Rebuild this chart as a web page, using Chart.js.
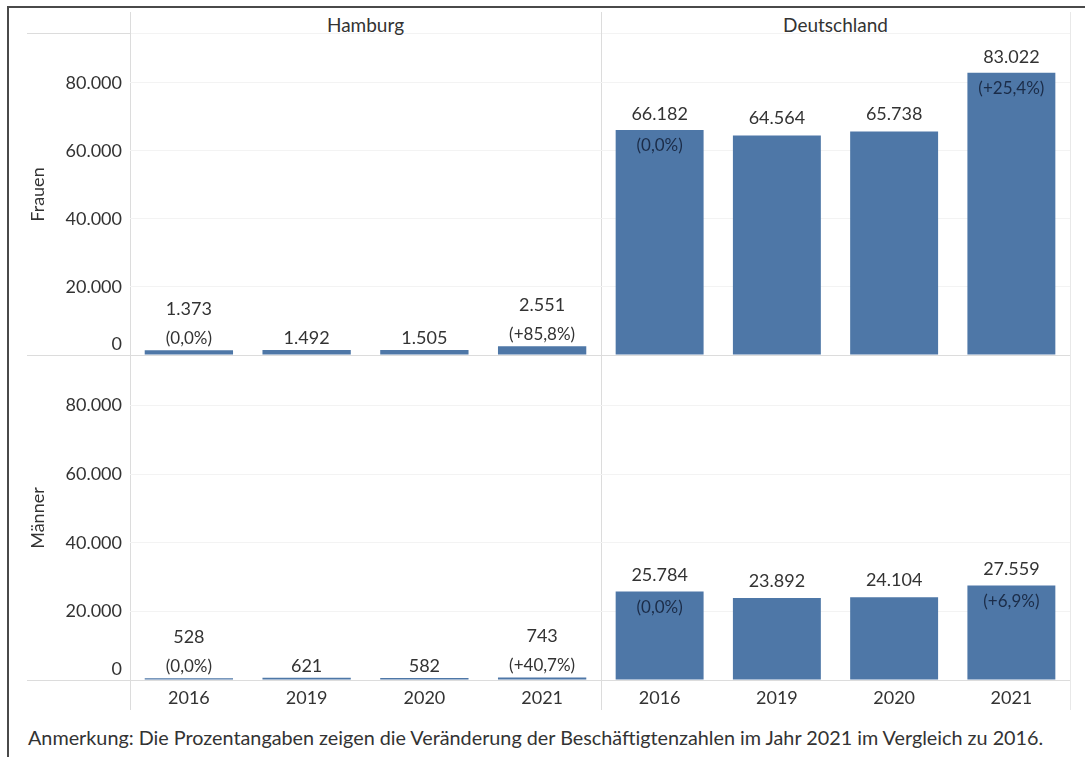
<!DOCTYPE html>
<html lang="de">
<head>
<meta charset="utf-8">
<title>Beschäftigte Frauen und Männer – Hamburg und Deutschland</title>
<script src="https://cdn.jsdelivr.net/npm/chart.js@4.4.1/dist/chart.umd.min.js"></script>
<style>
  body { margin: 0; background: #fff; font-family: Lato, "Open Sans", sans-serif; color: #333; }
  #page { position: relative; width: 1085px; height: 757px; overflow: hidden; }
  canvas { position: absolute; }
  .line { position: absolute; background: #dcdcdc; }
  .head { position: absolute; top: 14px; font-size: 19px; line-height: 22px; text-align: center; }
  #note { position: absolute; left: 28px; top: 725px; font-size: 19.8px; line-height: 24px; white-space: nowrap; }
</style>
</head>
<body>
<div id="page">
  <div class="line" style="left:7px;top:6px;width:1078px;height:2px;background:#4a4a4a"></div>
  <div class="line" style="left:7px;top:6px;width:2px;height:751px;background:#4a4a4a"></div>
  <div class="line" style="left:27px;top:33px;width:103px;height:1px"></div>
  <div class="line" style="left:130px;top:33px;width:940px;height:1px;background:#f3f3f3"></div>
  <div class="line" style="left:130px;top:12px;width:1px;height:698px"></div>
  <div class="line" style="left:601px;top:12px;width:1px;height:698px"></div>
  <div class="line" style="left:1070px;top:12px;width:1px;height:698px;background:#e8e8e8"></div>
  <div class="head" style="left:130px;width:471px">Hamburg</div>
  <div class="head" style="left:601px;width:469px">Deutschland</div>
  <div id="note">Anmerkung: Die Prozentangaben zeigen die Veränderung der Beschäftigtenzahlen im Jahr 2021 im Vergleich zu 2016.</div>
</div>
<script>
// Daten
const years = ['2016', '2019', '2020', '2021'];
const hamburgFrauen = [1373, 1492, 1505, 2551];
const deutschlandFrauen = [66182, 64564, 65738, 83022];
const hamburgMaenner = [528, 621, 582, 743];
const deutschlandMaenner = [25784, 23892, 24104, 27559];
const hamburgFrauenPct = ['(0,0%)', '', '', '(+85,8%)'];
const deutschlandFrauenPct = ['(0,0%)', '', '', '(+25,4%)'];
const hamburgMaennerPct = ['(0,0%)', '', '', '(+40,7%)'];
const deutschlandMaennerPct = ['(0,0%)', '', '', '(+6,9%)'];
const yTicks = [0, 20000, 40000, 60000, 80000];
const yMax = 94400;

const FONT = 'Lato, "Open Sans", sans-serif';
const BAR = '#4e77a7';

function fmt(v) {
    return String(v).replace(/\B(?=(\d{3})+(?!\d))/g, '.');
}

// Werte über den Balken, Prozent darunter bzw. im Balken
const barLabels = {
    id: 'barLabels',
    afterDatasetsDraw(chart) {
        let ctx = chart.ctx;
        let ds = chart.data.datasets[0];
        ctx.save();
        ctx.textAlign = 'center';
        ctx.textBaseline = 'middle';
        chart.getDatasetMeta(0).data.forEach((bar, i) => {
            let top = bar.y;
            let tall = bar.base - bar.y > 40;
            let pct = ds.pct[i];
            ctx.font = '18px ' + FONT;
            ctx.fillStyle = '#333';
            if (pct) {
                ctx.fillText(fmt(ds.data[i]), bar.x, tall ? top - 16 : top - 41);
                ctx.font = '17px ' + FONT;
                ctx.fillStyle = tall ? '#1b2c48' : '#333';
                ctx.fillText(pct, bar.x, tall ? top + 16 : top - 12);
            } else {
                ctx.fillText(fmt(ds.data[i]), bar.x, tall ? top - 17 : top - 12);
            }
        });
        ctx.restore();
    }
};

// Nulllinie nach links in die Beschriftungsspalte verlängern
const zeroLine = {
    id: 'zeroLine',
    beforeDatasetsDraw(chart, args, opts) {
        if (!opts.extend) return;
        let ctx = chart.ctx;
        let y = Math.round(chart.scales.y.getPixelForValue(0) - 0.5) + 0.5;
        ctx.save();
        ctx.strokeStyle = '#dcdcdc';
        ctx.lineWidth = 1;
        ctx.beginPath();
        ctx.moveTo(0, y);
        ctx.lineTo(chart.chartArea.left, y);
        ctx.stroke();
        ctx.restore();
    }
};

const panels = [
    { values: hamburgFrauen, pct: hamburgFrauenPct, left: 27, top: 34, width: 574, height: 322, axis: 103, row: 'Frauen', bottom: false },
    { values: deutschlandFrauen, pct: deutschlandFrauenPct, left: 601, top: 34, width: 469, height: 322, axis: 0, row: '', bottom: false },
    { values: hamburgMaenner, pct: hamburgMaennerPct, left: 27, top: 356, width: 574, height: 359, axis: 103, row: 'Männer', bottom: true },
    { values: deutschlandMaenner, pct: deutschlandMaennerPct, left: 601, top: 356, width: 469, height: 359, axis: 0, row: '', bottom: true }
];

function makePanel(p) {
    let canvas = document.createElement('canvas');
    canvas.width = p.width;
    canvas.height = p.height;
    canvas.style.left = p.left + 'px';
    canvas.style.top = p.top + 'px';
    document.getElementById('page').appendChild(canvas);

    new Chart(canvas, {
        type: 'bar',
        data: {
            labels: years,
            datasets: [{
                data: p.values,
                pct: p.pct,
                backgroundColor: BAR,
                barPercentage: 0.75,
                categoryPercentage: 1
            }]
        },
        options: {
            responsive: false,
            animation: false,
            devicePixelRatio: 1,
            layout: { padding: { bottom: p.bottom ? 0 : 1 } },
            plugins: {
                legend: { display: false },
                tooltip: { enabled: false },
                zeroLine: { extend: p.axis > 0 }
            },
            scales: {
                x: {
                    display: p.bottom,
                    grid: { display: false, drawTicks: false },
                    border: { display: false },
                    ticks: { color: '#333', padding: 7, font: { family: FONT, size: 18 } },
                    afterFit(scale) { scale.height = p.bottom ? 35 : 0; }
                },
                y: {
                    min: 0,
                    max: yMax,
                    afterBuildTicks(scale) { scale.ticks = yTicks.map(v => ({ value: v })); },
                    afterFit(scale) {
                        scale.width = p.axis;
                        scale.paddingTop = 0;
                        scale.paddingBottom = 0;
                    },
                    grid: {
                        drawTicks: false,
                        color: c => c.tick && c.tick.value === 0 ? '#dcdcdc' : '#f3f3f3'
                    },
                    border: { display: false },
                    ticks: {
                        display: p.axis > 0,
                        padding: 8,
                        color: '#333',
                        font: { family: FONT, size: 18 },
                        // die Null sitzt über der Linie
                        callback: v => v === 0 ? ['0', ''] : fmt(v)
                    },
                    title: {
                        display: !!p.row,
                        text: p.row,
                        color: '#333',
                        padding: 0,
                        font: { family: FONT, size: 18 }
                    }
                }
            }
        },
        plugins: [zeroLine, barLabels]
    });
}

panels.forEach(makePanel);
</script>
</body>
</html>
